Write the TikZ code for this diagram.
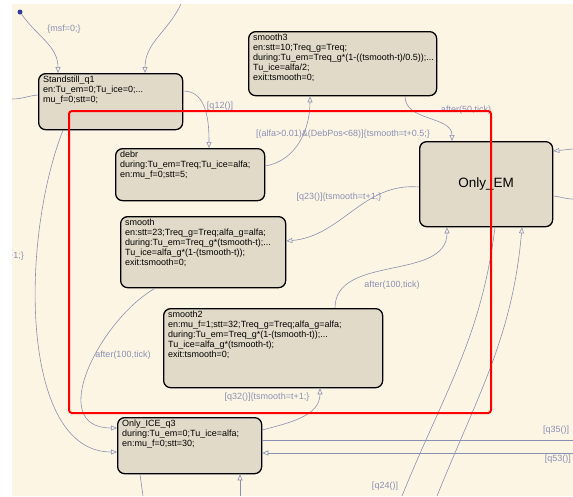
\documentclass[tikz,border=0pt]{standalone}
\usepackage{fontspec}
\setmainfont{Liberation Sans}
\usetikzlibrary{arrows.meta}
\definecolor{bgcream}{RGB}{253,245,228}
\definecolor{stfill}{RGB}{226,218,200}
\definecolor{trans}{RGB}{138,143,178}
\definecolor{initdot}{RGB}{51,61,160}

\begin{document}
\begin{tikzpicture}[x=1pt,y=-1pt,font=\fontsize{9}{10}\selectfont,
 st/.style={draw,line width=1.3pt,rounded corners=7pt,fill=stfill,anchor=north west,inner sep=0pt},
 sl/.style={anchor=north west,align=left,inner sep=0pt,xshift=5pt,yshift=-3pt},
 ar/.style={-{Triangle[open,length=6pt,width=5pt]},trans,line width=0.6pt},
 ln/.style={trans,line width=0.6pt},
 lb/.style={text=trans,inner sep=1pt}]
\useasboundingbox (0,0) rectangle (573,496);
\fill[white] (0,0) rectangle (573,496);
\fill[bgcream] (12,4) rectangle (573,496);
% states
\node[st,minimum width=144pt,minimum height=56pt,
 label={[sl]north west:{Standstill\_q1\\en:Tu\_em=0;Tu\_ice=0;...\\mu\_f=0;stt=0;}}] (standstill) at (38,73) {};
\node[st,minimum width=188pt,minimum height=64pt,
 label={[sl]north west:{smooth3\\en:stt=10;Treq\_g=Treq;\\during:Tu\_em=Treq\_g*(1-((tsmooth-t)/0.5));...\\Tu\_ice=alfa/2;\\exit:tsmooth=0;}}] (smooth3) at (248,31) {};
\node[st,minimum width=149pt,minimum height=52pt,
 label={[sl]north west:{debr\\during:Tu\_em=Treq;Tu\_ice=alfa;\\en:mu\_f=0;stt=5;}}] (debr) at (115,148) {};
\node[st,minimum width=133pt,minimum height=85pt,font=\fontsize{13.5}{16}\selectfont] (onlyem) at (419,141) {Only\_EM};
\node[st,minimum width=165pt,minimum height=71pt,
 label={[sl]north west:{smooth\\en:stt=23;Treq\_g=Treq;alfa\_g=alfa;\\during:Tu\_em=Treq\_g*(tsmooth-t);...\\Tu\_ice=alfa\_g*(1-(tsmooth-t));\\exit:tsmooth=0;}}] (smooth) at (120,216) {};
\node[st,minimum width=219pt,minimum height=79pt,
 label={[sl]north west:{smooth2\\en:mu\_f=1;stt=32;Treq\_g=Treq;alfa\_g=alfa;\\during:Tu\_em=Treq\_g*(1-(tsmooth-t));...\\Tu\_ice=alfa\_g*(tsmooth-t);\\exit:tsmooth=0;}}] (smooth2) at (163,308) {};
\node[st,minimum width=144pt,minimum height=56pt,
 label={[sl]north west:{Only\_ICE\_q3\\during:Tu\_em=0;Tu\_ice=alfa;\\en:mu\_f=0;stt=30;}}] (onlyice) at (117,417) {};
\node[circle,fill=initdot,inner sep=0pt,minimum size=5pt] (init) at (20,12) {};
% free ends
\coordinate (topin) at (181,4);
\coordinate (leftout) at (12,99);
\coordinate (q35end) at (573,440);
\coordinate (q53start) at (573,453);
\coordinate (botout) at (143,496);
\coordinate (botin) at (240,496);
\coordinate (q24end) at (402,496);
\coordinate (q42start) at (437,496);
\coordinate (rightin) at (573,149);
\coordinate (rightout) at (573,199);
% transitions
\draw[ar] (init) to[out=-55,in=90] ([xshift=20pt]standstill.north west);
\draw[ar] (topin) to[out=-115,in=90] ([xshift=107pt]standstill.north west);
\draw[ln] ([yshift=-22pt]standstill.north west) to[out=185,in=0] (leftout);
\draw[ar] ([yshift=-18pt]standstill.north east) to[out=0,in=90] ([xshift=94pt]debr.north west);
\draw[ar] ([yshift=-18pt]debr.north east) to[out=10,in=-90] ([xshift=62pt]smooth3.south west);
\draw[ar] ([xshift=157pt]smooth3.south west) to[out=-90,in=90] ([xshift=33pt]onlyem.north west);
\draw[ar] ([yshift=-46pt]onlyem.north west) to[out=175,in=5] ([yshift=-25pt]smooth.north east);
\draw[ar] ([xshift=172pt]smooth2.north west) to[out=90,in=-90] ([xshift=28pt]onlyem.south west);
\draw[ar] ([xshift=35pt]smooth.south west) .. controls (100,320) and (45,428) .. ([yshift=-11pt]onlyice.north west);
\draw[ar] ([xshift=25pt]standstill.south west) .. controls (20,240) and (20,452) .. ([yshift=-35pt]onlyice.north west);
\draw[ar] ([yshift=-13pt]onlyice.north east) to[out=15,in=-90] ([xshift=157pt]smooth2.south west);
\draw[ln] ([yshift=-23pt]onlyice.north east) -- (q35end);
\draw[ar] (q53start) -- ([yshift=-36pt]onlyice.north east);
\draw[ln] ([xshift=23pt]onlyice.south west) -- (botout);
\draw[ar] (botin) -- ([xshift=123pt]onlyice.south west);
\draw[ln] ([xshift=76pt]onlyem.south west) to[out=-97,in=68] (q24end);
\draw[ar] (q42start) to[out=68,in=-95] ([xshift=103pt]onlyem.south west);
\draw[ar] (rightin) -- ([yshift=-10pt]onlyem.north east);
\draw[ln] ([yshift=-55pt]onlyem.north east) to[out=-5,in=180] (rightout);
% labels
\node[lb] (lmsf) at (64,29) {\{msf=0;\}};
\node[lb] (lq12) at (220,106) {[q12()]};
\node[lb] (ldeb) at (343,134) {[(alfa>0.01)\&(DebPos<68)]\{tsmooth=t+0.5;\}};
\node[lb] (la50) at (466,110) {after(50,tick)};
\node[lb] (lq23) at (339,197) {[q23()]\{tsmooth=t+1;\}};
\node[lb] (la100) at (392,285) {after(100,tick)};
\node[lb] (la100b) at (123,355) {after(100,tick)};
\node[lb] (lq32) at (267,397) {[q32()]\{tsmooth=t+1;\}};
\node[lb] (lq35) at (556,430) {[q35()]};
\node[lb,anchor=east] (lq53) at (572,459) {[q53()]};
\node[lb] (lq24) at (385,486) {[q24()]};
\node[lb,anchor=east] (lt1) at (25,256) {+1;\}};
\fill[white] (0,0) rectangle (12,496);
% red frame
\draw[red,line width=2pt,rounded corners=3pt] (69,111) rectangle (491,413);
\end{tikzpicture}
\end{document}
